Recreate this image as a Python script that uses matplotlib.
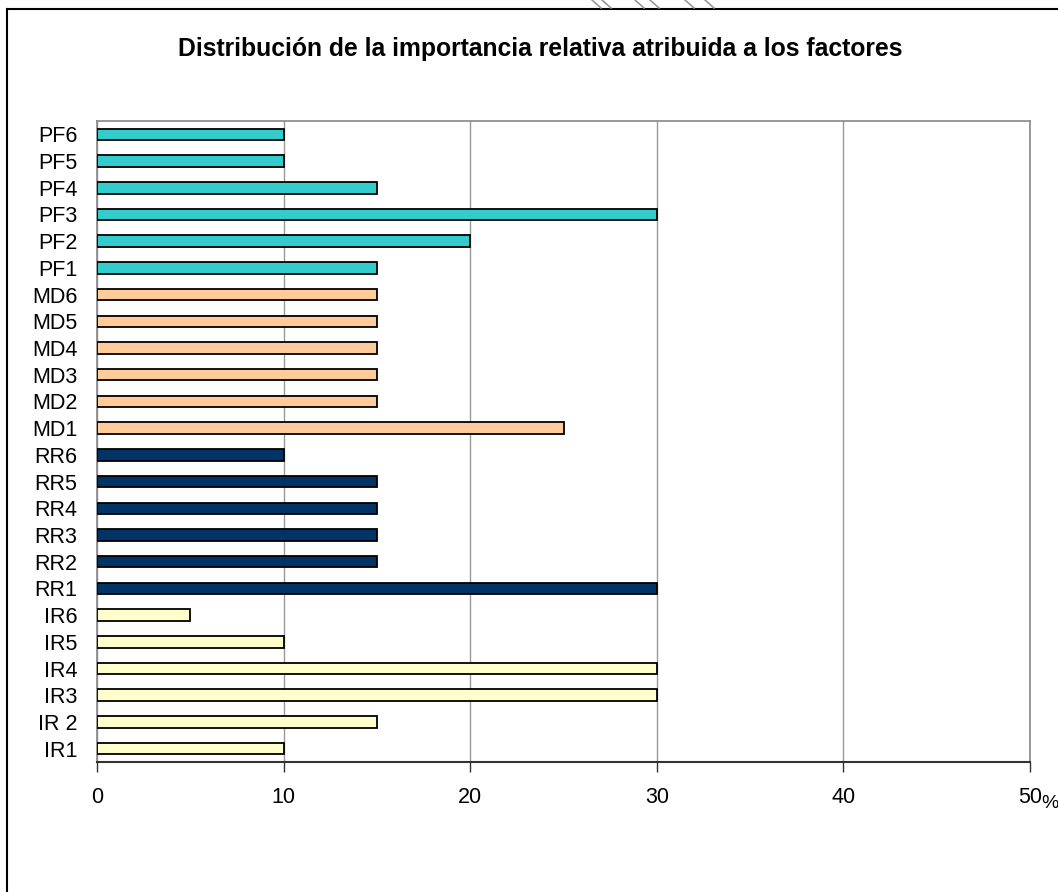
import numpy as np
import matplotlib.pyplot as plt
from matplotlib.lines import Line2D

plt.rcParams['font.family'] = ['Liberation Sans', 'DejaVu Sans']

# categorias de abajo hacia arriba
etiquetas = ['IR1', 'IR 2', 'IR3', 'IR4', 'IR5', 'IR6',
             'RR1', 'RR2', 'RR3', 'RR4', 'RR5', 'RR6',
             'MD1', 'MD2', 'MD3', 'MD4', 'MD5', 'MD6',
             'PF1', 'PF2', 'PF3', 'PF4', 'PF5', 'PF6']
valores = [10, 15, 30, 30, 10, 5,
           30, 15, 15, 15, 15, 10,
           25, 15, 15, 15, 15, 15,
           15, 20, 30, 15, 10, 10]
grupos = ['IR'] * 6 + ['RR'] * 6 + ['MD'] * 6 + ['PF'] * 6
colores_grupo = {'IR': '#FFFFCC', 'RR': '#003366', 'MD': '#FFCC99', 'PF': '#33CCCC'}
ticks_x = [0, 10, 20, 30, 40, 50]

fig = plt.figure(figsize=(10.58, 8.92), dpi=100)
ax = fig.add_axes([97 / 1058, 1 - 762 / 892, (1030 - 97) / 1058, (762 - 121) / 892])

y = np.arange(len(etiquetas))
ax.barh(y, valores, height=0.43, color=[colores_grupo[g] for g in grupos],
        edgecolor='black', linewidth=1.3, zorder=3)

ax.set_xlim(0, 50)
ax.set_ylim(-0.5, len(etiquetas) - 0.5)
ax.set_yticks(y)
ax.set_yticklabels(etiquetas, fontsize=15.5)
ax.set_xticks(ticks_x)
ax.set_xticklabels([str(t) for t in ticks_x], fontsize=15.5)
ax.tick_params(axis='x', length=7, width=1, pad=11, color='#333333')
ax.tick_params(axis='y', length=0, pad=14)
ax.xaxis.grid(True, color='#999999', linewidth=1, zorder=0)

ax.spines['top'].set_color('#888888')
ax.spines['right'].set_color('#888888')
ax.spines['left'].set_color('#888888')
ax.spines['bottom'].set_color('#333333')
ax.spines['bottom'].set_linewidth(1.5)
for s in ['top', 'right', 'left']:
    ax.spines[s].set_linewidth(1.2)

fig.text(1050 / 1058, 1 - 803 / 892, '%', fontsize=14, ha='center', va='center')
fig.text(540 / 1058, 1 - 49 / 892,
         'Distribución de la importancia relativa atribuida a los factores',
         fontsize=17.8, fontweight='bold', ha='center', va='center')

# marco exterior
fig.add_artist(Line2D([7 / 1058, 7 / 1058], [0, 1 - 9 / 892], color='black', linewidth=1.5))
fig.add_artist(Line2D([7 / 1058, 1], [1 - 9 / 892, 1 - 9 / 892], color='black', linewidth=1.5))

# trazos grises arriba
for x0 in [592, 602, 635, 650, 685, 705]:
    fig.add_artist(Line2D([x0 / 1058, (x0 + 9) / 1058], [1, 1 - 8 / 892],
                          color='#999999', linewidth=1.2))

fig.savefig('out.png', dpi=100)
